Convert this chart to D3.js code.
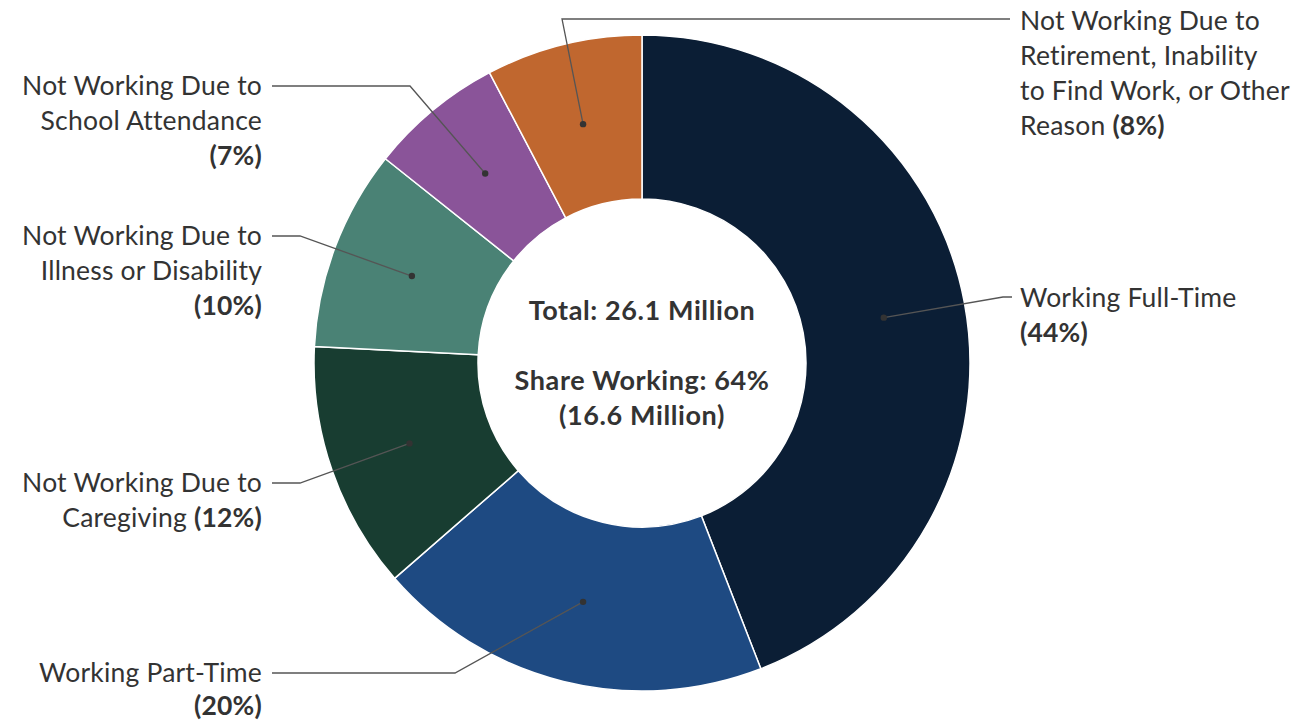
<!DOCTYPE html>
<html>
<head>
<meta charset="utf-8">
<script src="https://cdn.jsdelivr.net/npm/d3@7"></script>
<style>
  body { margin: 0; background: #fff; }
  text { font-family: Lato, "Noto Sans", sans-serif; fill: #333; }
</style>
</head>
<body>
<div class="chart"></div>
<script>
// shares of the total (percent)
var categories = ["Working Full-Time", "Working Part-Time", "Caregiving",
                  "Illness or Disability", "School Attendance", "Retirement / Other"];
var values = [44.1, 19.5, 12.2, 9.9, 6.6, 7.7];
var pctLabels = ["(44%)", "(20%)", "(12%)", "(10%)", "(7%)", "(8%)"];
var labelLines = [
    ["Working Full-Time"],
    ["Working Part-Time"],
    ["Not Working Due to", "Caregiving"],
    ["Not Working Due to", "Illness or Disability"],
    ["Not Working Due to", "School Attendance"],
    ["Not Working Due to", "Retirement, Inability", "to Find Work, or Other", "Reason"]
];
var pctNewLine = [true, true, false, true, true, false];
var colors = ["#0b1e35", "#1e4a82", "#183d31", "#4a8275", "#8a5499", "#c0672f"];
var centerLines = ["Total: 26.1 Million", "", "Share Working: 64%", "(16.6 Million)"];

// label placement (layout only)
var labelPos = [
    {anchor: "start", x: 1020, y: 298, bend: [1003, 297], end: [1012, 297]},
    {anchor: "end",   x: 262,  y: 673, bend: [455, 673],  end: [272, 673], lh: 33},
    {anchor: "end",   x: 262,  y: 483, bend: [300, 483],  end: [272, 483]},
    {anchor: "end",   x: 262,  y: 236, bend: [300, 236],  end: [272, 236]},
    {anchor: "end",   x: 262,  y: 86,  bend: [410, 86],   end: [272, 86]},
    {anchor: "start", x: 1020, y: 21,  bend: [562, 19],   end: [1010, 19]}
];

var width = 1316, height = 723;
var cx = 642, cy = 363, outerR = 328, innerR = 164;
var lineH = 35;

var svg = d3.select(".chart")
    .append("svg")
    .attr("width", width)
    .attr("height", height);

var g = svg.append("g")
    .attr("transform", "translate(" + cx + "," + cy + ")");

var pie = d3.pie().sort(null).value(function(d){ return d; });
var arc = d3.arc().innerRadius(innerR).outerRadius(outerR);
var arcs = pie(values);

g.selectAll(".slice")
    .data(arcs)
    .enter()
    .append("path")
    .attr("class", "slice")
    .attr("d", arc)
    .style("fill", function(d, i){ return colors[i]; })
    .style("stroke", "#fff")
    .style("stroke-width", 1.5);

// leader lines
arcs.forEach(function(d, i){
    var c = arc.centroid(d);
    var p = labelPos[i];
    var pts = [[c[0] + cx, c[1] + cy], p.bend, p.end];
    svg.append("path")
        .attr("d", d3.line()(pts))
        .style("fill", "none")
        .style("stroke", "#555")
        .style("stroke-width", 1.3);
    svg.append("circle")
        .attr("cx", c[0] + cx)
        .attr("cy", c[1] + cy)
        .attr("r", 3.2)
        .style("fill", "#333");
});

// labels
labelLines.forEach(function(lines, i){
    var p = labelPos[i];
    var lh = p.lh || lineH;
    var t = svg.append("text")
        .attr("text-anchor", p.anchor)
        .style("font-size", "26.5px")
        .style("letter-spacing", "0.2px");
    var all = lines.slice();
    if (pctNewLine[i]) all.push(null);
    all.forEach(function(line, k){
        var ts = t.append("tspan")
            .attr("x", p.x)
            .attr("y", p.y + k * lh)
            .attr("dy", "0.35em");
        if (line === null) {
            ts.style("font-weight", "bold").text(pctLabels[i]);
        } else if (k === all.length - 1 && !pctNewLine[i]) {
            ts.text(line + " ");
            t.append("tspan").style("font-weight", "bold").text(pctLabels[i]);
        } else {
            ts.text(line);
        }
    });
});

// centre text
svg.append("g")
    .selectAll("text")
    .data(centerLines)
    .enter()
    .append("text")
    .attr("x", cx)
    .attr("y", function(d, i){ return 311 + i * lineH; })
    .attr("dy", "0.35em")
    .attr("text-anchor", "middle")
    .style("font-size", "27px")
    .style("letter-spacing", "0.6px")
    .style("font-weight", "bold")
    .text(function(d){ return d; });
</script>
</body>
</html>
